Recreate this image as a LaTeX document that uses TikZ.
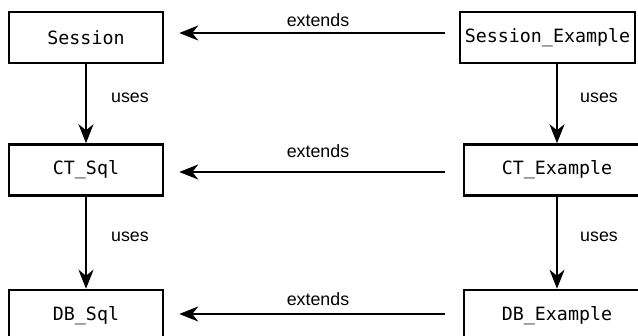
\documentclass[tikz,border=0pt]{standalone}
\usepackage{fontspec}
\setmainfont{Liberation Sans}
\setmonofont{DejaVu Sans Mono}
\usetikzlibrary{arrows.meta}
\begin{document}
\begin{tikzpicture}[x=1pt,y=1pt,
  box/.style={draw, line width=2.5pt, minimum height=51pt, inner sep=0pt,
    font=\ttfamily\fontsize{18.3}{20}\selectfont},
  lbl/.style={anchor=base, inner sep=0pt, font=\fontsize{17.8}{20}\selectfont},
  arr/.style={line width=2pt, -{Stealth[length=19pt,width=15pt,inset=6pt]}}]
\useasboundingbox (0,0) rectangle (638,336);
% boxes (y measured upward: y = 336 - pixel row)
\node[box, minimum width=154pt] (s)  at (86,298.5) {Session};
\node[box, minimum width=175pt] (se) at (547.5,298.5) {Session\_Example};
\node[box, minimum width=154pt] (c)  at (86,166) {CT\_Sql};
\node[box, minimum width=186pt] (ce) at (557,166) {CT\_Example};
\node[box, minimum width=154pt] (d)  at (86,20.5) {DB\_Sql};
\node[box, minimum width=186pt] (de) at (557,20.5) {DB\_Example};
% extends arrows
\draw[arr, shorten <=14pt, shorten >=15pt] ([yshift=4.5pt]se.west) -- ([yshift=4.5pt]s.east);
\draw[arr, shorten <=18pt, shorten >=15pt] ([yshift=-2pt]ce.west) -- ([yshift=-2pt]c.east);
\draw[arr, shorten <=18pt, shorten >=15pt] ([yshift=1.5pt]de.west) -- ([yshift=1.5pt]d.east);
% uses arrows
\draw[arr] (s.south) -- (c.north);
\draw[arr] (c.south) -- (d.north);
\draw[arr] (se.south -| ce.north) -- (ce.north);
\draw[arr] (ce.south) -- (de.north);
% labels
\node[lbl] (e1) at (318,309) {extends};
\node[lbl] (e2) at (318,178) {extends};
\node[lbl] (e3) at (318,30) {extends};
\node[lbl] (u1) at (130,233) {uses};
\node[lbl] (u2) at (599,233) {uses};
\node[lbl] (u3) at (130,94) {uses};
\node[lbl] (u4) at (599,94) {uses};
\end{tikzpicture}
\end{document}
